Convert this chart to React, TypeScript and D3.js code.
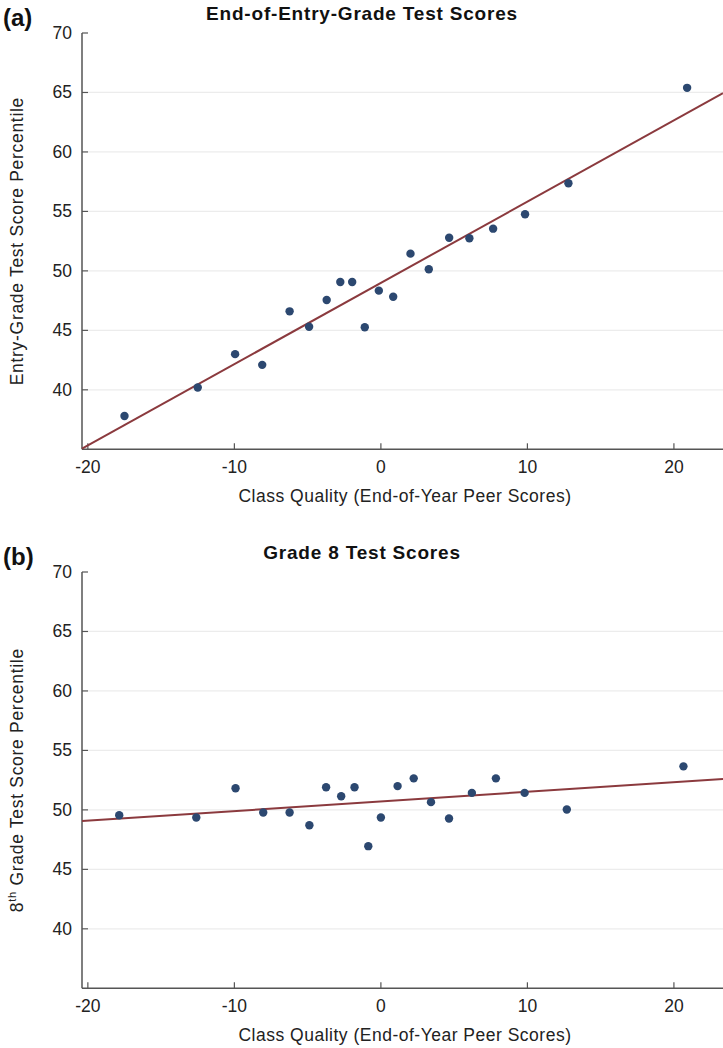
import React from "react";
import * as d3 from "d3";

// Panel (a): End-of-Entry-Grade Test Scores
const entryX = [-17.5, -12.5, -9.95, -8.1, -6.23, -4.9, -3.7, -2.77, -1.96, -1.1, -0.14, 0.84, 2.02, 3.27, 4.66, 6.04, 7.66, 9.84, 12.8, 20.9];
const entryY = [37.8, 40.2, 43.0, 42.1, 46.6, 45.3, 47.55, 49.07, 49.07, 45.26, 48.34, 47.83, 51.45, 50.14, 52.78, 52.75, 53.55, 54.76, 57.37, 65.39];
const entryFit = { intercept: 48.99, slope: 0.683 };

// Panel (b): Grade 8 Test Scores
const g8X = [-17.86, -12.6, -9.92, -8.03, -6.23, -4.88, -3.74, -2.71, -1.8, -0.86, 0.0, 1.14, 2.24, 3.42, 4.65, 6.21, 7.85, 9.81, 12.69, 20.65];
const g8Y = [49.55, 49.36, 51.82, 49.78, 49.78, 48.71, 51.9, 51.15, 51.9, 46.95, 49.36, 52.0, 52.65, 50.65, 49.28, 51.43, 52.65, 51.43, 50.03, 53.66];
const g8Fit = { intercept: 50.71, slope: 0.081 };

const xTicks = [-20, -10, 0, 10, 20];
const yTicks = [40, 45, 50, 55, 60, 65, 70];
const gridTicks = [40, 45, 50, 55, 60, 65];

const FONT = "'Liberation Sans', Arial, sans-serif";
const DOT = "#2c4870";
const LINE = "#8b3a3e";
const AXIS = "#555";

type PanelProps = {
  top: number;
  label: string;
  title: string;
  yTitle: React.ReactNode;
  xs: number[];
  ys: number[];
  fit: { intercept: number; slope: number };
};

function Panel({ top, label, title, yTitle, xs, ys, fit }: PanelProps) {
  const left = 82;
  const right = 723;
  const plotTop = top + 33;
  const plotBottom = top + 449.3;
  const xDomain: [number, number] = [-20.4, 23.35];
  const x = d3.scaleLinear().domain(xDomain).range([left, right]);
  const y = d3.scaleLinear().domain([35, 70]).range([plotBottom, plotTop]);
  const pts = xs.map((v, i) => [v, ys[i]] as [number, number]);
  const line = d3.line<number>().x((d) => x(d)).y((d) => y(fit.intercept + fit.slope * d));
  const midY = (plotTop + plotBottom) / 2;
  return (
    <g>
      <text x={3} y={top + 26} fontSize={24} fontWeight="bold" fontFamily={FONT} fill="#111">{label}</text>
      <text x={362} y={top + 20} fontSize={19} fontWeight="bold" letterSpacing={0.8} fontFamily={FONT} textAnchor="middle" fill="#111">{title}</text>
      {gridTicks.map((t) => (
        <line key={"g" + t} x1={left + 6} x2={right} y1={y(t)} y2={y(t)} stroke="#ececec" strokeWidth={1.2} />
      ))}
      {yTicks.map((t) => (
        <g key={"y" + t}>
          <line x1={left} x2={left + 6} y1={y(t)} y2={y(t)} stroke={AXIS} strokeWidth={1.2} />
          <text x={left - 10} y={y(t) + 6} fontSize={17.5} fontFamily={FONT} textAnchor="end" fill="#222">{t}</text>
        </g>
      ))}
      {xTicks.map((t) => (
        <g key={"x" + t}>
          <line x1={x(t)} x2={x(t)} y1={plotBottom} y2={plotBottom - 6} stroke={AXIS} strokeWidth={1.2} />
          <text x={x(t)} y={plotBottom + 24} fontSize={17.5} fontFamily={FONT} textAnchor="middle" fill="#222">{t}</text>
        </g>
      ))}
      <line x1={left} x2={left} y1={plotTop} y2={plotBottom} stroke={AXIS} strokeWidth={1.5} />
      <line x1={left} x2={right} y1={plotBottom} y2={plotBottom} stroke={AXIS} strokeWidth={1.5} />
      <path d={line(xDomain) || ""} stroke={LINE} strokeWidth={2} fill="none" />
      {pts.map(([a, b], i) => (
        <circle key={i} cx={x(a)} cy={y(b)} r={4.2} fill={DOT} />
      ))}
      <text x={405} y={plotBottom + 53} fontSize={17.5} letterSpacing={0.5} fontFamily={FONT} textAnchor="middle" fill="#222">Class Quality (End-of-Year Peer Scores)</text>
      <text transform={`translate(23,${midY}) rotate(-90)`} fontSize={17.5} letterSpacing={0.7} fontFamily={FONT} textAnchor="middle" fill="#222">{yTitle}</text>
    </g>
  );
}

export default function App() {
  return (
    <svg width={723} height={1048} style={{ position: "absolute", left: 0, top: 0, background: "#fff" }}>
      <rect width={723} height={1048} fill="#fff" />
      <Panel top={0} label="(a)" title="End-of-Entry-Grade Test Scores" yTitle="Entry-Grade Test Score Percentile" xs={entryX} ys={entryY} fit={entryFit} />
      <Panel
        top={539}
        label="(b)"
        title="Grade 8 Test Scores"
        yTitle={<>8<tspan fontSize={11} dy={-7}>th</tspan><tspan dy={7}> Grade Test Score Percentile</tspan></>}
        xs={g8X}
        ys={g8Y}
        fit={g8Fit}
      />
    </svg>
  );
}
